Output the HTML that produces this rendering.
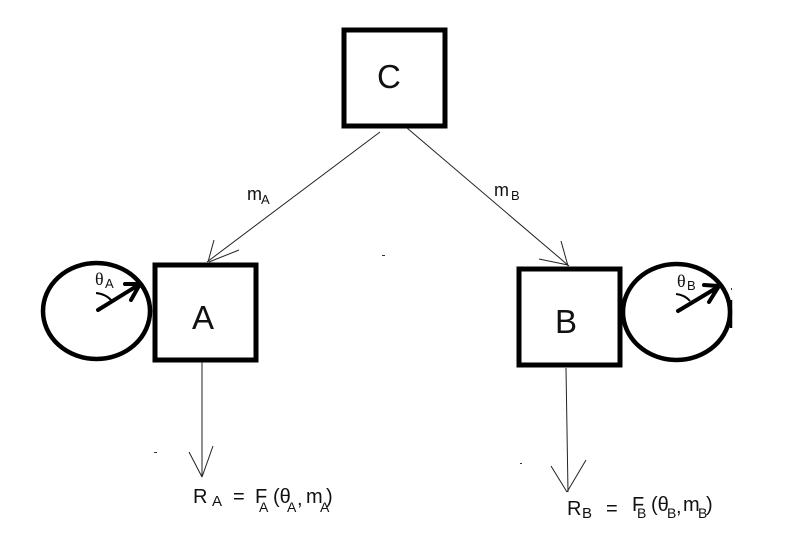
<!DOCTYPE html>
<html><head><meta charset="utf-8">
<style>
html,body{margin:0;padding:0;background:#fff}
svg{display:block}
text{font-family:"Liberation Sans",sans-serif;fill:#111}
.serif{font-family:"Liberation Serif",serif}
</style></head>
<body>
<svg width="800" height="546" viewBox="0 0 800 546" xmlns="http://www.w3.org/2000/svg">
<rect width="800" height="546" fill="#fff"/>
<g fill="none" stroke="#000" stroke-width="5">
<rect x="344" y="30" width="101" height="96"/>
<rect x="155" y="265" width="101" height="95"/>
<rect x="519" y="269" width="101" height="96"/>
</g>
<ellipse cx="96.5" cy="311" rx="53.5" ry="48" fill="none" stroke="#000" stroke-width="4.5"/>
<ellipse cx="676.5" cy="312" rx="53.5" ry="48" fill="none" stroke="#000" stroke-width="4.5"/>
<path d="M731 300V328" fill="none" stroke="#000" stroke-width="2.5"/>
<g fill="none" stroke="#222" stroke-width="1">
<path d="M380 132L207 262M214 240L208 262M239 250L209 262"/>
<path d="M407 128L569 266M561 241L568 266M539 259L568 265"/>
<path d="M202 362V477M189 452L202 477M213 446L202 477"/>
<path d="M566 368L568 492M551 466L567 492M586 460L567 492"/>
</g>
<g fill="none" stroke="#000" stroke-width="4" stroke-linecap="round" stroke-linejoin="round">
<path d="M98 310L140 284M125 284L140 284L131 300"/>
<path d="M678 311L718 287M704 285L719 286L709 302"/>
</g>
<g fill="none" stroke="#000" stroke-width="2">
<path d="M96 293Q106 294 112 301"/>
<path d="M676 294Q685 295 690 301"/>
</g>
<g fill="#333"><rect x="382" y="255" width="3" height="1"/><rect x="154" y="452" width="3" height="1"/><rect x="520" y="463" width="2" height="1"/><rect x="731" y="288" width="1" height="2"/></g>
<text x="377" y="88" font-size="33">C</text>
<text x="192" y="329" font-size="33">A</text>
<text x="555" y="333" font-size="33">B</text>
<text x="247" y="200" font-size="18">m</text><text x="261" y="204" font-size="13">A</text>
<text x="494" y="196" font-size="18">m</text><text x="511" y="200" font-size="13">B</text>
<text x="95" y="285" font-size="18" class="serif">θ</text><text x="105" y="288" font-size="13">A</text>
<text x="677" y="287" font-size="18" class="serif">θ</text><text x="687" y="290" font-size="13">B</text>
<text x="193" y="503" font-size="20">R</text><text x="212" y="506" font-size="15">A</text>
<text x="233" y="503" font-size="20">=</text>
<text x="255" y="503" font-size="20">F</text><text x="259" y="512" font-size="14">A</text>
<text x="273" y="503" font-size="20">(θ</text><text x="287" y="512" font-size="14">A</text><text x="297" y="505" font-size="20">,</text>
<text x="306" y="503" font-size="20">m</text><text x="320" y="512" font-size="14">A</text><text x="326" y="503" font-size="20">)</text>
<text x="567" y="515" font-size="20">R</text><text x="582" y="518" font-size="15">B</text>
<text x="606" y="515" font-size="20">=</text>
<text x="632" y="511" font-size="20">F</text><text x="637" y="518" font-size="14">B</text>
<text x="651" y="511" font-size="20">(θ</text><text x="667" y="518" font-size="14">B</text><text x="676" y="513" font-size="20">,</text>
<text x="683" y="511" font-size="20">m</text><text x="698" y="518" font-size="14">B</text><text x="706" y="511" font-size="20">)</text>
</svg>
</body></html>
